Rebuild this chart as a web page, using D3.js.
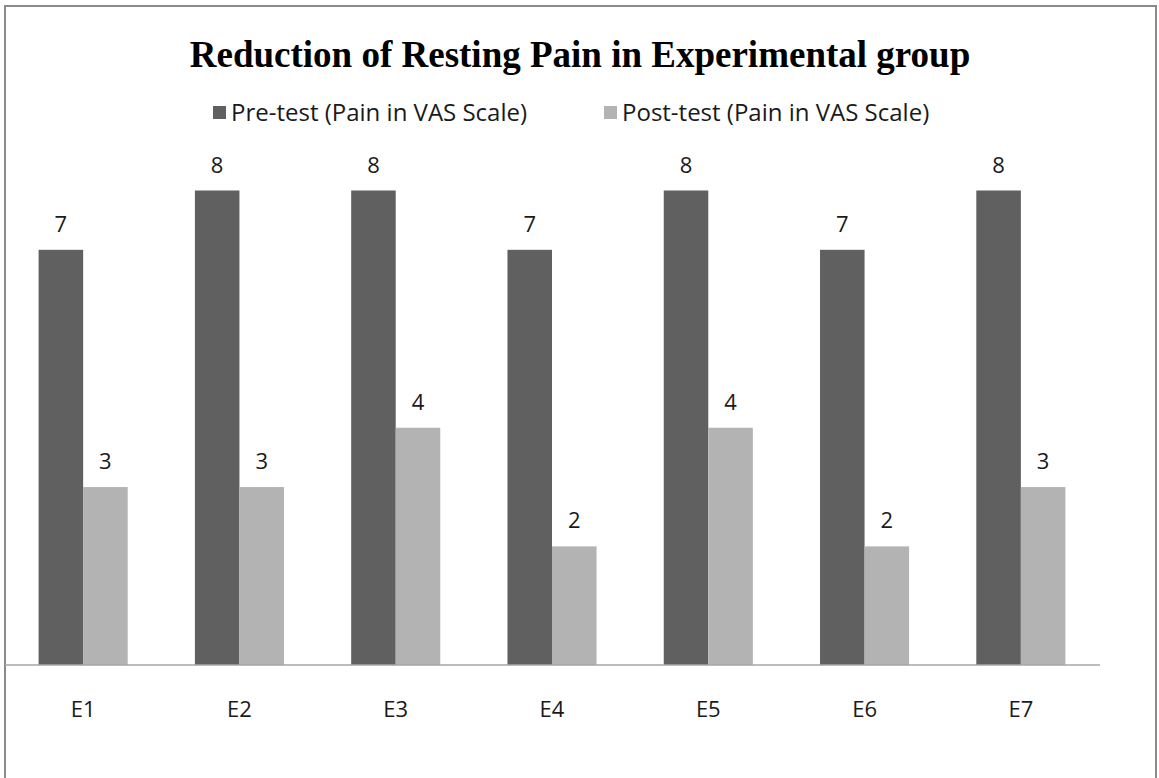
<!DOCTYPE html>
<html>
<head>
<meta charset="utf-8">
<script src="https://cdn.jsdelivr.net/npm/d3@7"></script>
<style>
  body { margin: 0; background: #fff; }
</style>
</head>
<body>
<div id="chart"></div>
<script>
var categories = ["E1", "E2", "E3", "E4", "E5", "E6", "E7"];
var seriesNames = ["Pre-test (Pain in VAS Scale)", "Post-test (Pain in VAS Scale)"];
var preTest = [7, 8, 8, 7, 8, 7, 8];
var postTest = [3, 3, 4, 2, 4, 2, 3];

var width = 1159,
    height = 778;
var colors = ["#606060", "#b3b3b3"];

var svg = d3.select("#chart")
  .append("svg")
  .attr("width", width)
  .attr("height", height);

// outer chart frame
svg.append("rect")
  .attr("x", 5).attr("y", 6)
  .attr("width", 1151).attr("height", 800)
  .attr("fill", "none")
  .attr("stroke", "#8a8a8a")
  .attr("stroke-width", 2);

svg.append("text")
  .attr("x", 580).attr("y", 67)
  .attr("text-anchor", "middle")
  .style("font-family", "'Liberation Serif', 'Times New Roman', serif")
  .style("font-weight", "bold")
  .style("font-size", "37px")
  .text("Reduction of Resting Pain in Experimental group");

// legend
var legendX = [213, 604];
var legend = svg.selectAll(".legend")
  .data(seriesNames)
  .enter().append("g")
  .attr("class", "legend")
  .attr("transform", function(d, i) { return "translate(" + legendX[i] + ",106)"; });
legend.append("rect")
  .attr("width", 13).attr("height", 13)
  .attr("fill", function(d, i) { return colors[i]; });
legend.append("text")
  .attr("x", 18).attr("y", 15)
  .style("font-family", "'Open Sans', sans-serif")
  .style("font-size", "24px")
  .style("fill", "#1a1a1a")
  .text(function(d) { return d; });

var x0 = d3.scaleBand()
  .domain(categories)
  .range([5, 1099]);
var gap = 33.6;
var x1 = d3.scaleBand()
  .domain([0, 1])
  .range([gap, x0.bandwidth() - gap]);
var y = d3.scaleLinear()
  .domain([0, 8])
  .range([665, 190.5]);

var rows = categories.map(function(c, i) {
  return { cat: c, values: [preTest[i], postTest[i]] };
});

var groups = svg.selectAll(".group")
  .data(rows)
  .enter().append("g")
  .attr("class", "group")
  .attr("transform", function(d) { return "translate(" + x0(d.cat) + ",0)"; });

var bars = groups.selectAll(".bar")
  .data(function(d) { return d.values.map(function(v, i) { return { i: i, v: v }; }); })
  .enter();

bars.append("rect")
  .attr("x", function(d) { return x1(d.i); })
  .attr("y", function(d) { return y(d.v); })
  .attr("width", x1.bandwidth())
  .attr("height", function(d) { return y(0) - y(d.v); })
  .attr("fill", function(d) { return colors[d.i]; });

bars.append("text")
  .attr("x", function(d) { return x1(d.i) + x1.bandwidth() / 2; })
  .attr("y", function(d) { return y(d.v) - 18; })
  .attr("text-anchor", "middle")
  .style("font-family", "'Open Sans', sans-serif")
  .style("font-size", "22px")
  .style("fill", "#1a1a1a")
  .text(function(d) { return d.v; });

// category axis
svg.append("line")
  .attr("x1", 5).attr("x2", 1100)
  .attr("y1", y(0)).attr("y2", y(0))
  .attr("stroke", "#a6a6a6")
  .attr("stroke-width", 1.5);

svg.selectAll(".cat")
  .data(categories)
  .enter().append("text")
  .attr("class", "cat")
  .attr("x", function(d) { return x0(d) + x0.bandwidth() / 2; })
  .attr("y", 717)
  .attr("text-anchor", "middle")
  .style("font-family", "'Open Sans', sans-serif")
  .style("font-size", "22px")
  .style("fill", "#1a1a1a")
  .text(function(d) { return d; });
</script>
</body>
</html>
